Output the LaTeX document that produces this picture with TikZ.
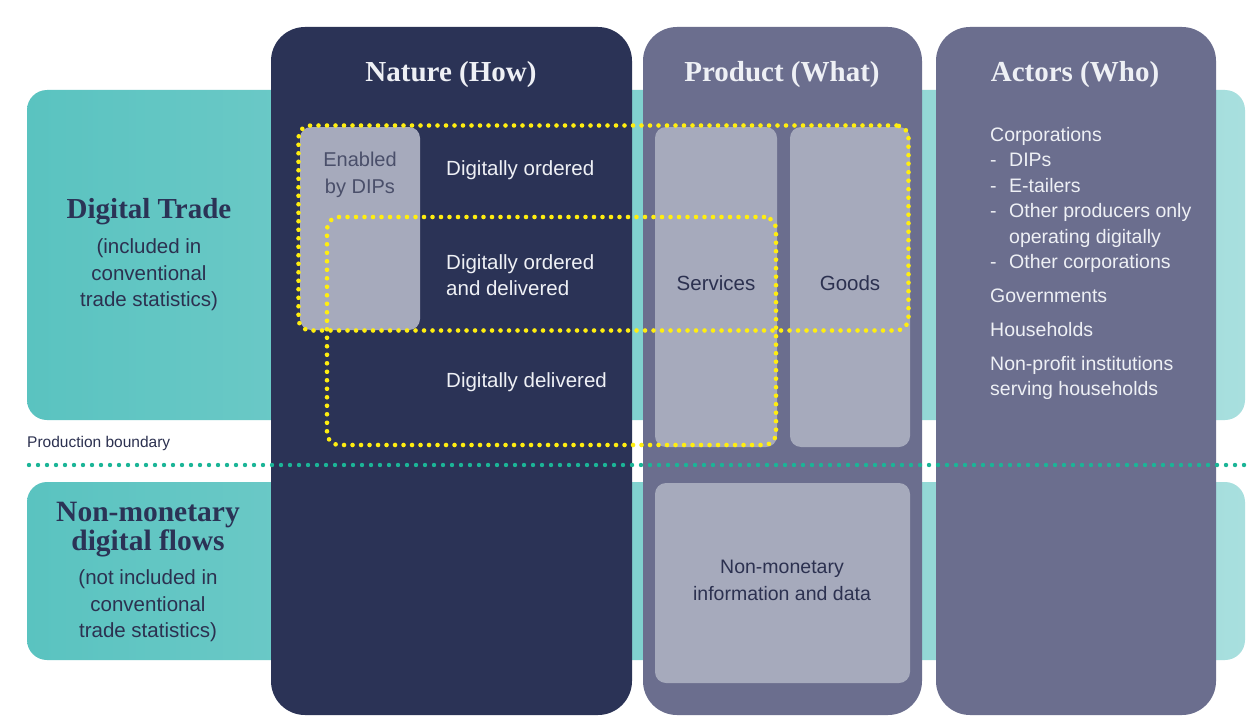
\documentclass[tikz,border=0pt]{standalone}
\usepackage{fontspec}
\setmainfont{Liberation Sans}
\newfontfamily\headfont{Liberation Serif}
\definecolor{navy}{HTML}{2B3356}
\definecolor{slate}{HTML}{6B6E8E}
\definecolor{lightbox}{HTML}{A6AABC}
\definecolor{tealL}{HTML}{5AC3C0}
\definecolor{tealR}{HTML}{A8DFDE}
\definecolor{ylw}{HTML}{FFEE10}
\definecolor{pbline}{HTML}{1BB597}
\definecolor{darktext}{HTML}{2C3150}
\definecolor{lighttext}{HTML}{EEF0F5}
\definecolor{greytext}{HTML}{4A4F6A}
\begin{document}
\begin{tikzpicture}[x=1pt,y=-1pt,
  col/.style={rounded corners=34pt, inner sep=0pt, draw=none},
  lbox/.style={fill=lightbox, rounded corners=11pt, inner sep=0pt, draw=none},
  ydot/.style={draw=ylw, line width=4.6pt, line cap=round, dash pattern=on 0pt off 8.5pt, rounded corners=12pt, inner sep=0pt},
  band/.style={rounded corners=20pt, inner sep=0pt, draw=none, left color=tealL, right color=tealR},
  head/.style={font=\headfont\bfseries\fontsize{29}{34}\selectfont},
  lefthead/.style={font=\headfont\bfseries\fontsize{29}{29}\selectfont, text=navy, align=center},
  leftsub/.style={font=\fontsize{20.5}{26.5}\selectfont, text=darktext, align=center},
  wtxt/.style={font=\fontsize{20.5}{26}\selectfont, text=lighttext, align=left, anchor=west, inner sep=0pt},
  atxt/.style={font=\fontsize{19.5}{25}\selectfont, text=lighttext, anchor=west, inner sep=0pt, text height=14pt, text depth=4pt},
  dtxt/.style={font=\fontsize{20.5}{27}\selectfont, text=darktext, align=center}
]
\useasboundingbox (0,0) rectangle (1256,725);
\fill[white] (0,0) rectangle (1256,725);

% teal bands
\node[band, minimum width=1218pt, minimum height=330pt] (bandtop) at (636,255) {};
\node[band, minimum width=1218pt, minimum height=178pt] (bandbot) at (636,571) {};

% columns
\node[col, fill=navy, minimum width=361pt, minimum height=688pt] (nature) at (451.5,371) {};
\node[col, fill=slate, minimum width=279pt, minimum height=688pt] (product) at (782.5,371) {};
\node[col, fill=slate, minimum width=280pt, minimum height=688pt] (actors) at (1076,371) {};

% headers
\node[head, text=lighttext] (hnature) at (451,75) {Nature (How)};
\node[head, text=lighttext] (hproduct) at (782,75) {Product (What)};
\node[head, text=lighttext] (hactors) at (1075,75) {Actors (Who)};

% light boxes
\node[lbox, minimum width=120pt, minimum height=203pt] (dips) at (360,228.5) {};
\node[lbox, minimum width=122pt, minimum height=320pt] (services) at (716,287) {};
\node[lbox, minimum width=120pt, minimum height=320pt] (goods) at (850,287) {};
\node[lbox, minimum width=255pt, minimum height=200pt] (nonmon) at (782.5,583) {};

% production boundary
\coordinate (pbL) at (29,465);
\coordinate (pbR) at (1250,465);
\draw[pbline, line width=4.4pt, line cap=round, dash pattern=on 0pt off 9pt] (pbL) -- (pbR);
\node[font=\fontsize{15.5}{18}\selectfont, text=darktext, anchor=west, inner sep=0pt] (pblabel) at (27,443) {Production boundary};

% left labels
\node[lefthead] (dt) at (149,212) {Digital Trade};
\node[leftsub] (dtsub) at (149,275) {(included in\\conventional\\trade statistics)};
\node[lefthead, font=\headfont\bfseries\fontsize{29.5}{29}\selectfont] (nm) at (148,530) {Non-monetary\\digital flows};
\node[leftsub] (nmsub) at (148,606) {(not included in\\conventional\\trade statistics)};

% nature texts
\node[font=\fontsize{20}{26.5}\selectfont, text=greytext, align=center] (dipstxt) at (360,175) {Enabled\\by DIPs};
\node[wtxt] (dord) at (446,170) {Digitally ordered};
\node[wtxt] (dordel) at (446,275) {Digitally ordered\\and delivered};
\node[wtxt] (ddel) at (446,382) {Digitally delivered};

% product texts
\node[dtxt] (servtxt) at (716,283) {Services};
\node[dtxt] (goodtxt) at (850,283) {Goods};
\node[dtxt, font=\fontsize{19.5}{27}\selectfont] (nmtxt) at (782,580) {Non-monetary\\information and data};

% actors list
\newcommand{\dsh}{\makebox[19pt][l]{-}}
\node[atxt] (a1) at (990,136) {Corporations};
\node[atxt] (a2) at (990,161.5) {\dsh DIPs};
\node[atxt] (a3) at (990,187) {\dsh E-tailers};
\node[atxt] (a4) at (990,212.5) {\dsh Other producers only};
\node[atxt] (a5) at (990,238) {\hspace*{19pt}operating digitally};
\node[atxt] (a6) at (990,263) {\dsh Other corporations};
\node[atxt] (a7) at (990,297) {Governments};
\node[atxt] (a8) at (990,331) {Households};
\node[atxt] (a9) at (990,365) {Non-profit institutions};
\node[atxt] (a10) at (990,390) {serving households};

% yellow dotted outlines
\node[ydot, minimum width=610pt, minimum height=205pt] (dig1) at (603.5,228) {};
\node[ydot, minimum width=449pt, minimum height=228pt] (dig2) at (551.5,331) {};
\end{tikzpicture}
\end{document}
